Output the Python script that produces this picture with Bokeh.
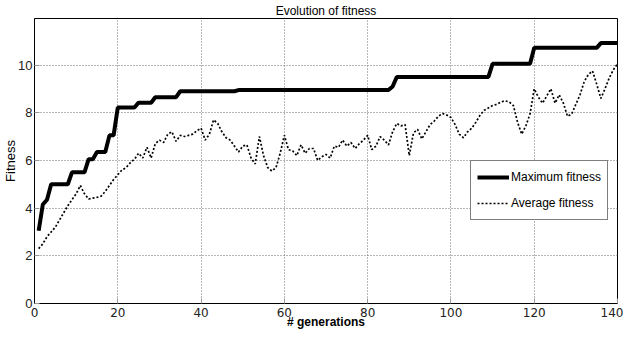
from bokeh.plotting import figure
from bokeh.models import Legend, LegendItem, FixedTicker, Range1d
from bokeh.embed import file_html
from bokeh.resources import INLINE

generations = list(range(1, 141))

max_fitness = [
    3.05, 4.15, 4.35, 5.0, 5.0, 5.0, 5.0, 5.0, 5.5, 5.5,
    5.5, 5.5, 6.05, 6.05, 6.35, 6.35, 6.35, 7.05, 7.05, 8.22,
    8.22, 8.22, 8.22, 8.22, 8.42, 8.42, 8.42, 8.42, 8.65, 8.65,
    8.65, 8.65, 8.65, 8.65, 8.9, 8.9, 8.9, 8.9, 8.9, 8.9,
    8.9, 8.9, 8.9, 8.9, 8.9, 8.9, 8.9, 8.9, 8.95, 8.95,
    8.95, 8.95, 8.95, 8.95, 8.95, 8.95, 8.95, 8.95, 8.95, 8.95,
    8.95, 8.95, 8.95, 8.95, 8.95, 8.95, 8.95, 8.95, 8.95, 8.95,
    8.95, 8.95, 8.95, 8.95, 8.95, 8.95, 8.95, 8.95, 8.95, 8.95,
    8.95, 8.95, 8.95, 8.95, 8.95, 9.1, 9.5, 9.5, 9.5, 9.5,
    9.5, 9.5, 9.5, 9.5, 9.5, 9.5, 9.5, 9.5, 9.5, 9.5,
    9.5, 9.5, 9.5, 9.5, 9.5, 9.5, 9.5, 9.5, 9.5, 10.05,
    10.05, 10.05, 10.05, 10.05, 10.05, 10.05, 10.05, 10.05, 10.05, 10.72,
    10.72, 10.72, 10.72, 10.72, 10.72, 10.72, 10.72, 10.72, 10.72, 10.72,
    10.72, 10.72, 10.72, 10.72, 10.72, 10.92, 10.92, 10.92, 10.92, 10.92,
]

avg_fitness = [
    2.3, 2.5, 2.8, 3.0, 3.2, 3.5, 3.8, 4.1, 4.35, 4.6,
    4.95, 4.6, 4.38, 4.42, 4.45, 4.5, 4.7, 4.95, 5.2, 5.4,
    5.6, 5.7, 5.9, 6.05, 6.3, 6.1, 6.55, 6.1, 6.7, 6.85,
    6.75, 7.1, 7.2, 6.8, 7.05, 7.0, 7.05, 7.1, 7.25, 7.35,
    6.85, 7.1, 7.7, 7.55, 7.2, 6.95, 6.85, 6.6, 6.35, 6.6,
    6.65, 6.1, 5.85, 7.0, 6.2, 5.7, 5.55, 5.7, 6.3, 7.05,
    6.45, 6.4, 6.2, 6.65, 6.3, 6.5, 6.5, 6.0, 6.15, 6.25,
    6.1, 6.6, 6.55, 6.85, 6.6, 6.75, 6.5, 6.7, 6.85, 7.05,
    6.45, 6.6, 7.0, 6.85, 6.65, 7.2, 7.55, 7.45, 7.5, 6.2,
    7.15, 7.3, 6.9, 7.2, 7.5, 7.65, 7.85, 7.97, 7.9, 7.8,
    7.5, 7.1, 6.95, 7.2, 7.35, 7.6, 7.9, 8.1, 8.2, 8.3,
    8.35, 8.45, 8.5, 8.45, 8.3, 7.6, 7.1, 7.45, 7.95, 9.0,
    8.65, 8.4, 8.7, 9.0, 8.4, 8.75, 8.4, 7.85, 7.95, 8.35,
    8.75, 9.3, 9.6, 9.75, 9.2, 8.6, 9.0, 9.45, 9.8, 10.05,
]

x_ticks = [0, 20, 40, 60, 80, 100, 120, 140]
y_ticks = [0, 2, 4, 6, 8, 10]

title_text = "Evolution of fitness"
x_label = "# generations"
y_label = "Fitness"
series_labels = ["Maximum fitness", "Average fitness"]

SANS = "Liberation Sans"

p = figure(width=623, height=331, output_backend="svg", toolbar_location=None,
           x_range=Range1d(0, 140), y_range=Range1d(0, 11.95),
           min_border_left=8, min_border_right=6, min_border_top=10,
           min_border_bottom=8)

p.title.text = title_text
p.title.align = "center"
p.title.text_font = SANS
p.title.text_font_size = "12px"
p.title.text_font_style = "normal"
p.title.text_color = "black"
p.title.standoff = 2

p.outline_line_color = "black"
p.outline_line_width = 1

for ax in (p.xaxis[0], p.yaxis[0]):
    ax.axis_line_color = "black"
    ax.major_tick_in = 5
    ax.major_tick_out = 0
    ax.major_tick_line_color = "#999999"
    ax.minor_tick_line_color = None
    ax.major_label_text_color = "#222222"
    ax.axis_label_text_color = "black"

p.xaxis[0].ticker = FixedTicker(ticks=x_ticks)
p.yaxis[0].ticker = FixedTicker(ticks=y_ticks)
p.xaxis[0].major_label_text_font = "DejaVu Sans"
p.xaxis[0].major_label_text_font_size = "12px"
p.xaxis[0].major_label_standoff = 4
p.yaxis[0].major_label_text_font = SANS
p.yaxis[0].major_label_text_font_size = "13px"
p.yaxis[0].major_label_standoff = 2

p.xaxis[0].axis_label = x_label
p.xaxis[0].axis_label_text_font = SANS
p.xaxis[0].axis_label_text_font_size = "12px"
p.xaxis[0].axis_label_text_font_style = "bold"
p.xaxis[0].axis_label_standoff = -5
p.yaxis[0].axis_label = y_label
p.yaxis[0].axis_label_text_font = SANS
p.yaxis[0].axis_label_text_font_size = "13px"
p.yaxis[0].axis_label_text_font_style = "normal"
p.yaxis[0].axis_label_standoff = -3

p.grid.grid_line_color = "#707070"
p.grid.grid_line_dash = "1 2"
p.grid.grid_line_width = 1
p.xgrid.ticker = FixedTicker(ticks=x_ticks)
p.ygrid.ticker = FixedTicker(ticks=y_ticks)

r_max = p.line(generations, max_fitness, line_color="black", line_width=4)
r_avg = p.line(generations, avg_fitness, line_color="black", line_width=1.7,
               line_dash="2 2")

legend = Legend(items=[LegendItem(label=series_labels[0], renderers=[r_max]),
                       LegendItem(label=series_labels[1], renderers=[r_avg])],
                location=(436, 83))
legend.border_line_color = "black"
legend.border_line_width = 1
legend.background_fill_color = "white"
legend.background_fill_alpha = 1
legend.label_text_font = SANS
legend.label_text_font_size = "12px"
legend.label_text_color = "black"
legend.glyph_width = 32
legend.label_standoff = 2
legend.label_height = 20
legend.glyph_height = 20
legend.spacing = 6
legend.padding = 6
legend.margin = 0
p.add_layout(legend, "center")

open("out.html", "w").write(file_html(p, INLINE))
